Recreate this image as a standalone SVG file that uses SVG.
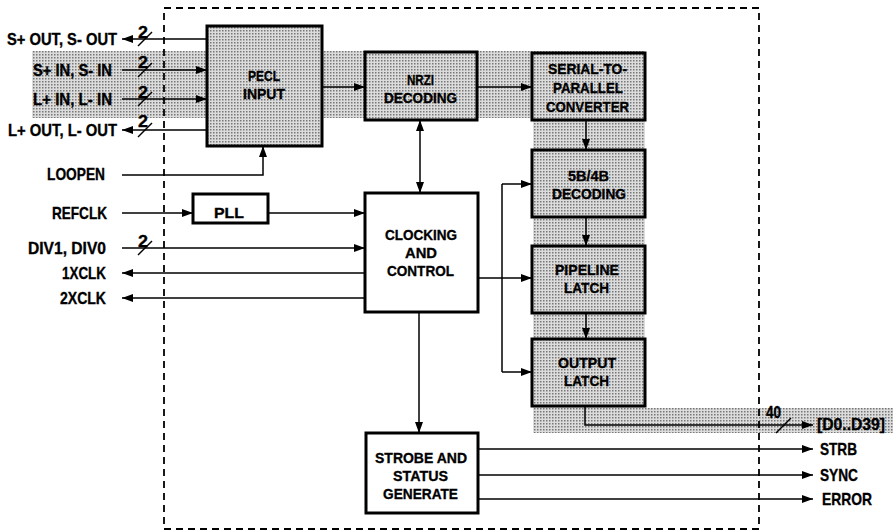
<svg xmlns="http://www.w3.org/2000/svg" width="893" height="531" viewBox="0 0 893 531">
<defs>
<pattern id="dots" width="3" height="3" patternUnits="userSpaceOnUse">
<rect width="3" height="3" fill="#dcdcdc"/>
<rect width="1.5" height="1.5" fill="#777"/>
</pattern>
<marker id="ah" markerUnits="userSpaceOnUse" markerWidth="12" markerHeight="8" refX="11" refY="4" orient="auto-start-reverse">
<path d="M0,0 L11,4 L0,8 Z" fill="#000"/>
</marker>
<style>
text{font-family:"Liberation Sans",Arial,sans-serif;font-weight:bold;font-size:17px;fill:#000;stroke:#000;stroke-width:0.35}
.bt{font-size:15.5px}
.box{stroke:#000;stroke-width:3}
.sh{fill:url(#dots)}
.wh{fill:#fff}
.ln{fill:none;stroke:#000;stroke-width:1.5}
.ar{marker-end:url(#ah)}
.ar2{marker-start:url(#ah);marker-end:url(#ah)}
.sl{stroke:#000;stroke-width:1.5}
</style>
</defs>
<g id="shading">
<rect x="32" y="51" width="613" height="67" fill="url(#dots)"/>
<rect x="533" y="118" width="112" height="290" fill="url(#dots)"/>
<rect x="533" y="408" width="360" height="25" fill="url(#dots)"/>
</g>
<g id="boundary">
<rect x="164" y="8" width="595" height="521" fill="none" stroke="#000" stroke-width="1.8" stroke-dasharray="7,5"/>
</g>
<g id="connectors">
<path class="ln ar" d="M207,39 H122"/>
<path class="ln ar" d="M122,70 H207"/>
<path class="ln ar" d="M122,99 H207"/>
<path class="ln ar" d="M207,130 H122"/>
<path class="ln ar" d="M122,175 H263 V146"/>
<path class="ln ar" d="M322,87 H365"/>
<path class="ln ar" d="M477,87 H532"/>
<path class="ln ar2" d="M420,120 V193"/>
<path class="ln ar" d="M586,120 V150"/>
<path class="ln ar" d="M586,217 V246"/>
<path class="ln ar" d="M586,313 V339"/>
<path class="ln ar" d="M122,213 H193"/>
<path class="ln ar" d="M268,213 H365"/>
<path class="ln ar" d="M122,248 H365"/>
<path class="ln ar" d="M365,273 H122"/>
<path class="ln ar" d="M365,298 H122"/>
<path class="ln ar" d="M478,278 H532"/>
<path class="ln" d="M502,184 V372"/>
<path class="ln ar" d="M502,184 H532"/>
<path class="ln ar" d="M502,372 H532"/>
<path class="ln ar" d="M419,312 V433"/>
<path class="ln ar" d="M478,449 H813"/>
<path class="ln ar" d="M478,475 H813"/>
<path class="ln ar" d="M478,499 H813"/>
<path class="ln ar" d="M585,406 V425 H813"/>
<line class="sl" x1="138" y1="46" x2="152" y2="32"/>
<line class="sl" x1="138" y1="77" x2="152" y2="63"/>
<line class="sl" x1="138" y1="106" x2="152" y2="92"/>
<line class="sl" x1="138" y1="137" x2="152" y2="123"/>
<line class="sl" x1="138" y1="255" x2="152" y2="241"/>
<line class="sl" x1="776" y1="433" x2="791" y2="418"/>
<text x="138" y="38" textLength="10" lengthAdjust="spacingAndGlyphs">2</text>
<text x="138" y="68" textLength="10" lengthAdjust="spacingAndGlyphs">2</text>
<text x="138" y="98" textLength="10" lengthAdjust="spacingAndGlyphs">2</text>
<text x="138" y="127" textLength="10" lengthAdjust="spacingAndGlyphs">2</text>
<text x="138" y="247" textLength="10" lengthAdjust="spacingAndGlyphs">2</text>
<text x="766" y="418" textLength="15" lengthAdjust="spacingAndGlyphs">40</text>
</g>
<g id="labels">
<text x="7" y="45" textLength="110" lengthAdjust="spacingAndGlyphs">S+ OUT, S- OUT</text>
<text x="33" y="76" textLength="79" lengthAdjust="spacingAndGlyphs">S+ IN, S- IN</text>
<text x="33" y="105" textLength="79" lengthAdjust="spacingAndGlyphs">L+ IN, L- IN</text>
<text x="8" y="136" textLength="109" lengthAdjust="spacingAndGlyphs">L+ OUT, L- OUT</text>
<text x="47" y="180" textLength="58" lengthAdjust="spacingAndGlyphs">LOOPEN</text>
<text x="52" y="219" textLength="55" lengthAdjust="spacingAndGlyphs">REFCLK</text>
<text x="28" y="254" textLength="78" lengthAdjust="spacingAndGlyphs">DIV1, DIV0</text>
<text x="62" y="279" textLength="44" lengthAdjust="spacingAndGlyphs">1XCLK</text>
<text x="60" y="304" textLength="46" lengthAdjust="spacingAndGlyphs">2XCLK</text>
<text x="820" y="455" textLength="37" lengthAdjust="spacingAndGlyphs">STRB</text>
<text x="820" y="481" textLength="38" lengthAdjust="spacingAndGlyphs">SYNC</text>
<text x="822" y="505" textLength="50" lengthAdjust="spacingAndGlyphs">ERROR</text>
<text x="817" y="430" textLength="68" lengthAdjust="spacingAndGlyphs">[D0..D39]</text>
</g>
<g id="pecl-input">
<rect class="box sh" x="207" y="26" width="115" height="120"/>
<text class="bt" x="248" y="81" textLength="32" lengthAdjust="spacingAndGlyphs">PECL</text>
<text class="bt" x="243" y="99" textLength="42" lengthAdjust="spacingAndGlyphs">INPUT</text>
</g>
<g id="nrzi-decoding">
<rect class="box sh" x="365" y="52" width="112" height="68"/>
<text class="bt" x="407" y="85" textLength="27" lengthAdjust="spacingAndGlyphs">NRZI</text>
<text class="bt" x="384" y="103" textLength="73" lengthAdjust="spacingAndGlyphs">DECODING</text>
</g>
<g id="serial-to-parallel">
<rect class="box sh" x="532" y="53" width="113" height="67"/>
<text class="bt" x="548" y="74" textLength="79" lengthAdjust="spacingAndGlyphs">SERIAL-TO-</text>
<text class="bt" x="553" y="93" textLength="70" lengthAdjust="spacingAndGlyphs">PARALLEL</text>
<text class="bt" x="546" y="112" textLength="83" lengthAdjust="spacingAndGlyphs">CONVERTER</text>
</g>
<g id="decoding-5b4b">
<rect class="box sh" x="532" y="150" width="113" height="67"/>
<text class="bt" x="568" y="181" textLength="41" lengthAdjust="spacingAndGlyphs">5B/4B</text>
<text class="bt" x="552" y="199" textLength="74" lengthAdjust="spacingAndGlyphs">DECODING</text>
</g>
<g id="pipeline-latch">
<rect class="box sh" x="532" y="246" width="113" height="67"/>
<text class="bt" x="555" y="275" textLength="64" lengthAdjust="spacingAndGlyphs">PIPELINE</text>
<text class="bt" x="564" y="293" textLength="45" lengthAdjust="spacingAndGlyphs">LATCH</text>
</g>
<g id="output-latch">
<rect class="box sh" x="532" y="339" width="113" height="67"/>
<text class="bt" x="558" y="368" textLength="58" lengthAdjust="spacingAndGlyphs">OUTPUT</text>
<text class="bt" x="564" y="386" textLength="45" lengthAdjust="spacingAndGlyphs">LATCH</text>
</g>
<g id="pll">
<rect class="box wh" x="193" y="194" width="75" height="29"/>
<text class="bt" x="214" y="218" textLength="30" lengthAdjust="spacingAndGlyphs">PLL</text>
</g>
<g id="clocking-control">
<rect class="box wh" x="365" y="193" width="113" height="119"/>
<text class="bt" x="385" y="240" textLength="72" lengthAdjust="spacingAndGlyphs">CLOCKING</text>
<text class="bt" x="405" y="258" textLength="32" lengthAdjust="spacingAndGlyphs">AND</text>
<text class="bt" x="387" y="276" textLength="67" lengthAdjust="spacingAndGlyphs">CONTROL</text>
</g>
<g id="strobe-status">
<rect class="box wh" x="366" y="433" width="112" height="80"/>
<text class="bt" x="375" y="463" textLength="92" lengthAdjust="spacingAndGlyphs">STROBE AND</text>
<text class="bt" x="393" y="481" textLength="55" lengthAdjust="spacingAndGlyphs">STATUS</text>
<text class="bt" x="383" y="499" textLength="75" lengthAdjust="spacingAndGlyphs">GENERATE</text>
</g>
</svg>
